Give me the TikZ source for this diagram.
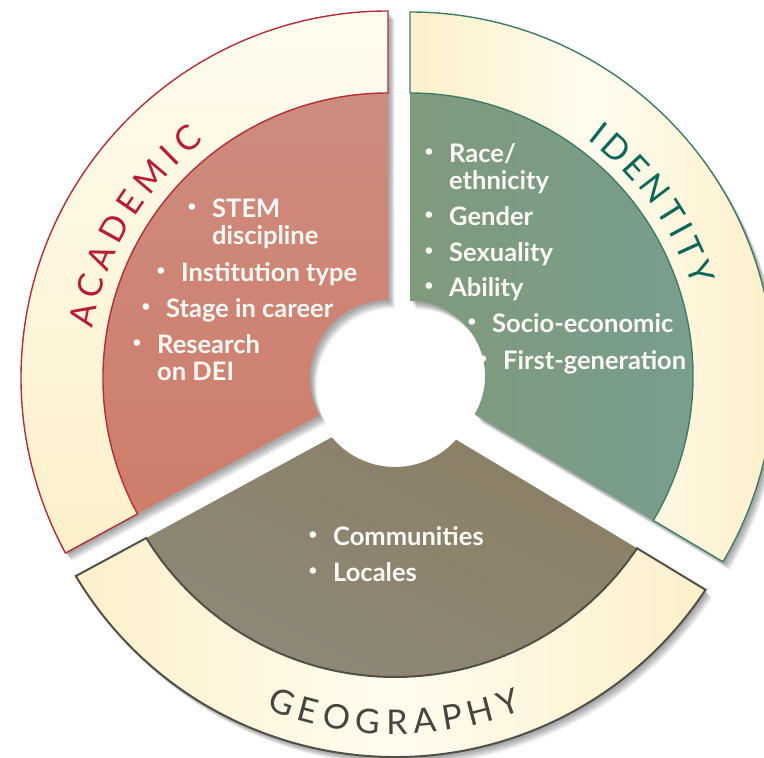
\documentclass[tikz,border=0pt]{standalone}
\usepackage{fontspec}
\newfontfamily\itemfont{Lato}
\newfontfamily\labelfont{Lato}
\usetikzlibrary{calc,shadings}
\definecolor{creamL}{RGB}{255,252,239}
\definecolor{creamY}{RGB}{253,240,202}
\definecolor{acadTop}{RGB}{206,139,127}
\definecolor{acadBot}{RGB}{206,126,106}
\definecolor{acadLine}{RGB}{180,45,55}
\definecolor{acadText}{RGB}{183,28,58}
\definecolor{identL}{RGB}{128,154,124}
\definecolor{identR}{RGB}{120,158,141}
\definecolor{identLine}{RGB}{60,125,100}
\definecolor{identText}{RGB}{10,104,88}
\definecolor{geoGray}{RGB}{142,137,124}
\definecolor{geoBrown}{RGB}{139,127,97}
\definecolor{geoMid}{RGB}{140,132,112}
\definecolor{geoLine}{RGB}{82,79,70}
\definecolor{geoText}{RGB}{70,70,62}
\definecolor{itemWhite}{RGB}{253,250,245}
\tikzset{
  itemtxt/.style={font={\itemfont\bfseries\fontsize{25.5}{27}\selectfont}, text=itemWhite, inner sep=0pt, anchor=base west},
  bul/.style={font={\itemfont\bfseries\fontsize{15}{15}\selectfont}, text=itemWhite, inner sep=0pt, anchor=center},
  lbl/.style={font={\labelfont\fontsize{34}{34}\selectfont}, inner sep=0pt, anchor=center},
  shadowlayer/.style={fill=black, opacity=0.05},
}
\begin{document}
\begin{tikzpicture}[x=1pt,y=1pt]
\useasboundingbox (0,0) rectangle (764,758);
\clip (0,0) rectangle (764,758);
\coordinate (OA) at (388,380);
\coordinate (OI) at (410,382);
\coordinate (OG) at (395,373);
% paths
\def\acadall{($(OA)+(90:367)$) arc[start angle=90,end angle=208.5,radius=367] -- ($(OA)+(208.5:78)$) arc[start angle=208.5,end angle=90,radius=78] -- cycle}
\def\acadring{($(OA)+(90:367)$) arc[start angle=90,end angle=208.5,radius=367] -- ($(OA)+(208.5:285)$) arc[start angle=208.5,end angle=90,radius=285] -- cycle}
\def\acadin{($(OA)+(90:285)$) arc[start angle=90,end angle=208.5,radius=285] -- ($(OA)+(208.5:78)$) arc[start angle=208.5,end angle=90,radius=78] -- cycle}
\def\identall{($(OI)+(90:364)$) arc[start angle=90,end angle=-30.7,radius=364] -- ($(OI)+(-30.7:75)$) arc[start angle=-30.7,end angle=90,radius=75] -- cycle}
\def\identring{($(OI)+(90:364)$) arc[start angle=90,end angle=-30.7,radius=364] -- ($(OI)+(-30.7:283)$) arc[start angle=-30.7,end angle=90,radius=283] -- cycle}
\def\identin{($(OI)+(90:283)$) arc[start angle=90,end angle=-30.7,radius=283] -- ($(OI)+(-30.7:75)$) arc[start angle=-30.7,end angle=90,radius=75] -- cycle}
\def\geoall{($(OG)+(210.9:372)$) arc[start angle=210.9,end angle=326.6,radius=372] -- ($(OG)+(318.2:82)$) arc[start angle=318.2,end angle=219.6,radius=82] -- cycle}
\def\georing{($(OG)+(210.9:372)$) arc[start angle=210.9,end angle=326.6,radius=372] -- ($(OG)+(326.0:292)$) arc[start angle=326.0,end angle=211.6,radius=292] -- cycle}
\def\geoin{($(OG)+(211.6:292)$) arc[start angle=211.6,end angle=326.0,radius=292] -- ($(OG)+(318.2:82)$) arc[start angle=318.2,end angle=219.6,radius=82] -- cycle}
% soft shadows
\foreach \k in {1,...,8}{
  \begin{scope}[transform canvas={shift={(0.7*\k+1,-0.9*\k-1)}}]
    \fill[shadowlayer] \acadall;
    \fill[shadowlayer] \identall;
    \fill[shadowlayer] \geoall;
  \end{scope}
}
% academic
\shade[top color=acadTop, bottom color=acadBot] \acadin;
\shadedraw[top color=creamL, bottom color=creamY, draw=acadLine, line width=1.4pt] \acadring;
% identity
\shade[left color=identL, right color=identR] \identin;
\shadedraw[left color=creamY, right color=creamY, middle color=creamL, draw=identLine, line width=1.4pt] \identring;
% geography
\shade[lower left=geoGray, upper right=geoBrown, upper left=geoMid, lower right=geoMid] \geoin;
\shadedraw[left color=creamY, right color=creamY, middle color=creamL, draw=geoLine, line width=2pt] \georing;
% ring labels
\foreach \ch/\ang [count=\i] in {A/168.4, C/162.77, A/157.14, D/151.23, E/145.69, M/139.69, I/134.52, C/130.10}
  \node[lbl, text=acadText, rotate=\ang-90] (acad\i) at ($(OA)+(\ang:312)$) {\ch};
\foreach \ch/\ang [count=\i] in {I/52.2, D/47.85, E/42.65, N/37.42, T/32.13, I/28.32, T/24.51, Y/19.63}
  \node[lbl, text=identText, rotate=\ang-90] (ident\i) at ($(OI)+(\ang:308)$) {\ch};
\foreach \ch/\ang [count=\i] in {G/250.4, E/255.11, O/260.02, G/265.43, R/270.32, A/275.06, P/279.74, H/284.65, Y/289.65}
  \node[lbl, text=geoText, rotate=\ang+90] (geo\i) at ($(OG)+(\ang:337)$) {\ch};
% academic items
\node[itemtxt] (a1) at (212,540) {STEM};
\node[itemtxt] (a1b) at (212,513) {discipline};
\node[itemtxt] (a2) at (181,476) {Institution type};
\node[itemtxt] (a3) at (166,440) {Stage in career};
\node[itemtxt] (a4) at (157,404) {Research};
\node[itemtxt] (a4b) at (157,377) {on DEI};
% identity items
\node[itemtxt] (i1) at (449,595) {Race/};
\node[itemtxt] (i1b) at (449,568) {ethnicity};
\node[itemtxt] (i2) at (449,532) {Gender};
\node[itemtxt] (i3) at (449,496) {Sexuality};
\node[itemtxt] (i4) at (449,461) {Ability};
\node[itemtxt] (i5) at (492,425) {Socio-economic};
\node[itemtxt] (i6) at (503,388) {First-generation};
% geography items
\node[itemtxt] (g1) at (333,212) {Communities};
\node[itemtxt] (g2) at (333,176) {Locales};
% bullets
\foreach \t in {a1,a2,a3,a4,i1,i2,i3,i4,i5,i6,g1,g2}
  \node[bul] (b\t) at ($(\t.base west)+(-20,10.5)$) {•};
\end{tikzpicture}
\end{document}
